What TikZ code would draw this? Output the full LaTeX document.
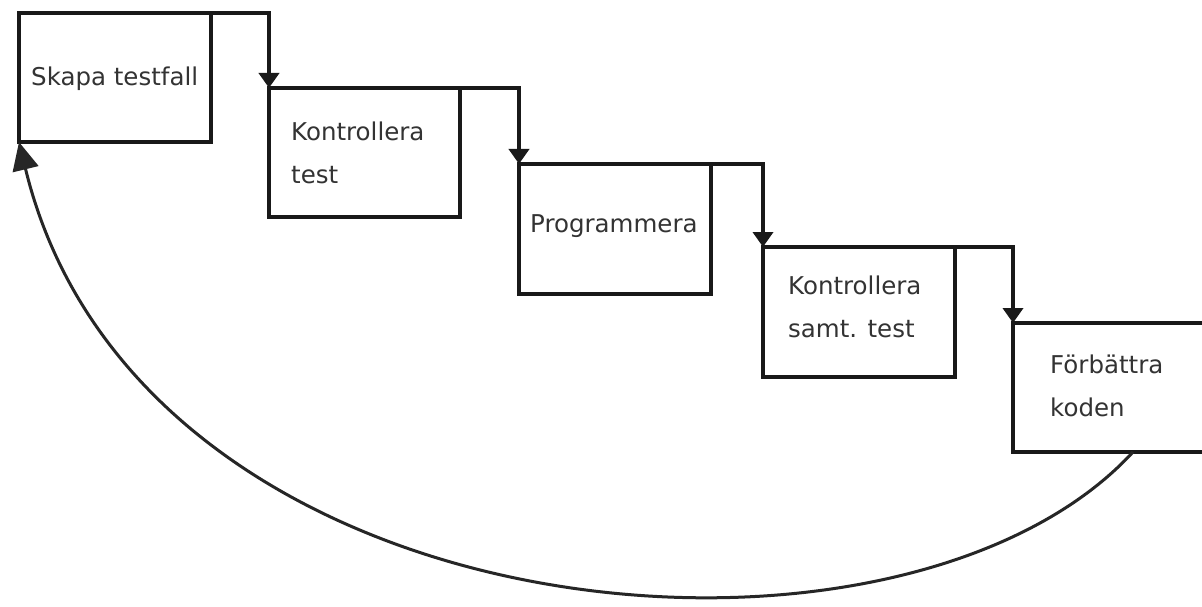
\documentclass[tikz,border=0pt]{standalone}
\usepackage{fontspec}
\setmainfont{DejaVu Sans}
\usetikzlibrary{arrows.meta,calc}
\newcommand\twolines[2]{\vtop{\baselineskip=43pt\hbox{#1}\hbox{#2}}}
\begin{document}
\begin{tikzpicture}[x=1pt,y=-1pt,
  stepbox/.style={draw=black!90, line width=3.8pt, rectangle, inner sep=0pt, outer sep=0pt},
  lbl/.style={anchor=base west, inner sep=0pt, text=black!80, font=\fontsize{24.5}{43}\selectfont},
  flow/.style={draw=black!90, line width=3.8pt, -{Triangle[width=20pt,length=15pt]}},
  back/.style={draw=black!85, line width=3pt, -{Triangle[width=26pt,length=28pt]}}]
\useasboundingbox (0,0) rectangle (1202,607);
\clip (0,0) rectangle (1202,607);
\fill[white] (0,0) rectangle (1202,607);
% boxes
\node[stepbox, minimum width=192pt, minimum height=129pt] (b1) at (115,77.5) {};
\node[stepbox, minimum width=191pt, minimum height=129pt] (b2) at (364.5,152.5) {};
\node[stepbox, minimum width=192pt, minimum height=130pt] (b3) at (615,229) {};
\node[stepbox, minimum width=192pt, minimum height=130pt] (b4) at (859,312) {};
\node[stepbox, minimum width=230pt, minimum height=129pt] (b5) at (1128,387.5) {};
% labels
\node[lbl] (t1) at (31,86) {Skapa testfall};
\node[lbl] (t2) at (291,141) {\twolines{Kontrollera}{test}};
\node[lbl] (t3) at (530,232) {Programmera};
\node[lbl] (t4) at (788,294) {\twolines{Kontrollera}{samt. test}};
\node[lbl] (t5) at (1050,373) {\twolines{Förbättra}{koden}};
% connectors
\draw[flow] (b1.north east) -| (b2.north west);
\draw[flow] (b2.north east) -| (b3.north west);
\draw[flow] (b3.north east) -| (b4.north west);
\draw[flow] (b4.north east) -| (b5.north west);
\coordinate (c5) at ($(b5.south west)+(120,0)$);
\draw[back] (c5) .. controls (900,705) and (140,640) .. (b1.south west);
\end{tikzpicture}
\end{document}
